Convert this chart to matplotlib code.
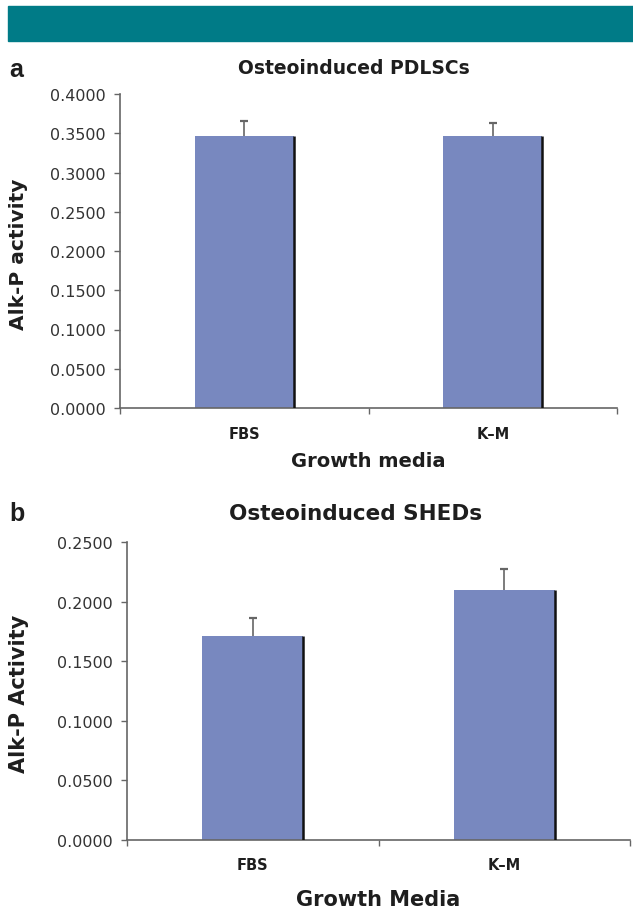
import matplotlib
matplotlib.use("Agg")
import matplotlib.pyplot as plt
import matplotlib.transforms as mtransforms
from matplotlib.patches import Rectangle

# ---- data ----
categories = ["FBS", "K\u2013M"]
pdlsc_values = [0.347, 0.346]
pdlsc_errors = [0.018, 0.017]
shed_values = [0.171, 0.210]
shed_errors = [0.015, 0.017]

pdlsc_ticks = [0.0, 0.05, 0.10, 0.15, 0.20, 0.25, 0.30, 0.35, 0.40]
shed_ticks = [0.0, 0.05, 0.10, 0.15, 0.20, 0.25]

BAR_COLOR = "#7888bf"
AXIS_COLOR = "#666666"
TEXT_COLOR = "#333333"
DARK = "#1e1e1e"

W, H = 633, 912
fig = plt.figure(figsize=(W / 100, H / 100), dpi=100)
fig.patch.set_facecolor("white")

# teal header band
fig.patches.append(Rectangle((8 / W, 1 - 42 / H), 1 - 8 / W, 35 / H,
                             transform=fig.transFigure, color="#007b87", zorder=0))


def fx(px):
    return px / W


def fy(py):
    return 1 - py / H


def panel(left, right, top, bottom, values, errors, ticks, title, title_xy,
          title_size, xlabel, xlabel_y, xlabel_size, ylabel, ylabel_size,
          cat_y, letter, letter_y):
    ax = fig.add_axes([fx(left), fy(bottom), fx(right - left), (bottom - top) / H])
    n = len(values)
    xs = [i + 0.5 for i in range(n)]
    width = 0.4
    tops = [v + e for v, e in zip(values, errors)]
    # error bars (upper only)
    ax.vlines(xs, values, tops, color=AXIS_COLOR, lw=1.2, zorder=1)
    ax.plot(xs, tops, ls="none", marker="_", ms=6, mew=1.6, color=AXIS_COLOR, zorder=1)
    ax.bar(xs, values, width=width, color=BAR_COLOR, zorder=2)
    ax.vlines([x + width / 2 for x in xs], 0, values, color="#111111", lw=1.8, zorder=3)
    ax.set_xlim(0, n)
    ax.set_ylim(ticks[0], ticks[-1])
    ax.set_yticks(ticks)
    ax.set_yticklabels([f"{t:.4f}" for t in ticks], fontsize=11.5, color=TEXT_COLOR)
    ax.set_xticks(range(n + 1))
    ax.set_xticklabels([])
    ax.tick_params(axis="both", direction="out", length=4, width=1, color=AXIS_COLOR)
    ax.tick_params(axis="y", pad=6)
    for s in ["top", "right"]:
        ax.spines[s].set_visible(False)
    for s in ["left", "bottom"]:
        ax.spines[s].set_color(AXIS_COLOR)
        ax.spines[s].set_linewidth(1.2)
    trans = mtransforms.blended_transform_factory(ax.transAxes, fig.transFigure)
    for i, c in enumerate(categories):
        ax.text(xs[i] / n, fy(cat_y), c, transform=trans,
                ha="center", va="center", fontsize=10.5, fontweight="bold", color=DARK)
    fig.text(fx(title_xy[0]), fy(title_xy[1]), title, fontsize=title_size,
             fontweight="bold", color=DARK, ha="center", va="center")
    fig.text(fx((left + right) / 2), fy(xlabel_y), xlabel, fontsize=xlabel_size,
             fontweight="bold", color=DARK, ha="center", va="center")
    fig.text(fx(19), fy((top + bottom) / 2 + 2), ylabel, fontsize=ylabel_size,
             fontweight="bold", color=DARK, ha="center", va="center", rotation=90)
    fig.text(fx(9), fy(letter_y), letter, fontsize=18, fontweight="bold",
             family="Liberation Sans", color=DARK, ha="left", va="center")
    return ax


panel(120, 617, 95, 409, pdlsc_values, pdlsc_errors, pdlsc_ticks,
      "Osteoinduced PDLSCs", (354, 69), 13.5,
      "Growth media", 462, 14, "Alk-P activity", 14.5, 435, "a", 70)

panel(127, 630, 543, 841, shed_values, shed_errors, shed_ticks,
      "Osteoinduced SHEDs", (356, 514), 15.5,
      "Growth Media", 900, 15, "Alk-P Activity", 15, 866, "b", 514)

fig.savefig("out.png", dpi=100, facecolor="white")
